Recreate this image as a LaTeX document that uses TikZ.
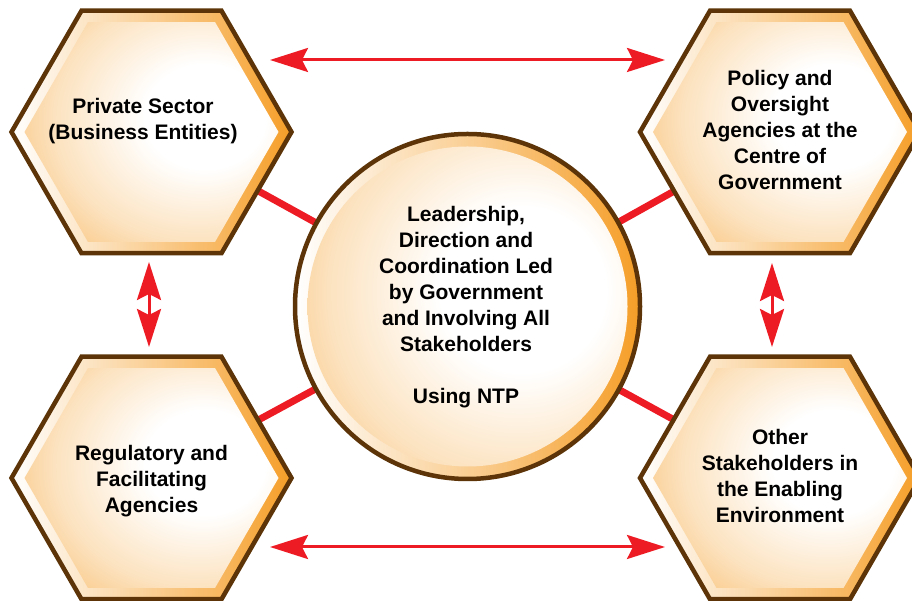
\documentclass[tikz,border=0pt]{standalone}
\usepackage{fontspec}
\setmainfont{Liberation Sans}
\usetikzlibrary{shapes.geometric,arrows.meta,backgrounds}
\definecolor{hexorange}{RGB}{245,158,40}
\definecolor{hexbrown}{RGB}{92,52,8}
\definecolor{linkred}{RGB}{237,28,36}
\pgfdeclareradialshading{hexglow}{\pgfpoint{12bp}{4bp}}{color(0bp)=(white); color(12bp)=(white); color(28bp)=(hexorange!30); color(42bp)=(hexorange!70); color(54bp)=(hexorange!95); color(100bp)=(hexorange)}
\pgfdeclareradialshading{circglow}{\pgfpoint{10bp}{3bp}}{color(0bp)=(white); color(13bp)=(white); color(29bp)=(hexorange!30); color(43bp)=(hexorange!70); color(55bp)=(hexorange!95); color(100bp)=(hexorange)}
\begin{document}
\begin{tikzpicture}[x=1pt,y=1pt,
  hexout/.style={regular polygon, regular polygon sides=6, minimum size=280pt, inner sep=0pt, outer sep=0pt, draw=hexbrown, line width=4.5pt, left color=white, right color=hexorange},
  hexin/.style={regular polygon, regular polygon sides=6, minimum size=254pt, inner sep=0pt, outer sep=0pt, shading=hexglow},
  circout/.style={circle, minimum size=345pt, inner sep=0pt, outer sep=0pt, draw=hexbrown, line width=4.5pt, left color=white, right color=hexorange},
  circin/.style={circle, minimum size=320pt, inner sep=0pt, outer sep=0pt, shading=circglow},
  lbl/.style={align=center, font=\fontsize{21}{26}\selectfont\bfseries, text=black, inner sep=0pt},
  link/.style={draw=linkred, line width=7pt},
  twoway/.style={draw=linkred, line width=3pt, {Stealth[length=38pt,width=24pt,inset=6pt]}-{Stealth[length=38pt,width=24pt,inset=6pt]}}
]
\useasboundingbox (0,0) rectangle (912,601);
\clip (0,0) rectangle (912,601);

% hexagons
\node[hexout] (tl) at (151.5,469) {};
\node[hexin] (tlin) at (151.5,469) {};
\node[hexout] (tr) at (780,469) {};
\node[hexin] (trin) at (780,469) {};
\node[hexout] (bl) at (151.5,123) {};
\node[hexin] (blin) at (151.5,123) {};
\node[hexout] (br) at (780,123) {};
\node[hexin] (brin) at (780,123) {};

% hub
\node[circout] (hub) at (467.5,294.5) {};
\node[circin] (hubin) at (467.5,294.5) {};

% labels
\node[lbl] (tltext) at (143,480) {Private Sector\\(Business Entities)};
\node[lbl] (trtext) at (780,471) {Policy and\\Oversight\\Agencies at the\\Centre of\\Government};
\node[lbl] (bltext) at (151.5,120) {Regulatory and\\Facilitating\\Agencies};
\node[lbl] (brtext) at (780,125) {Other\\Stakeholders in\\the Enabling\\Environment};
\node[lbl] (hubtext) at (466,293.5) {Leadership,\\Direction and\\Coordination Led\\by Government\\and Involving All\\Stakeholders\\[26pt]Using NTP};

% connectors to hub
\begin{scope}[on background layer]
\draw[link] (tl.center) -- (hub.center);
\draw[link] (tr.center) -- (hub.center);
\draw[link] (bl.center) -- (hub.center);
\draw[link] (br.center) -- (hub.center);
\end{scope}

% two-way arrows
\coordinate (topL) at (270,541);
\coordinate (topR) at (665,541);
\coordinate (botL) at (270,54);
\coordinate (botR) at (665,54);
\coordinate (leftT) at (149,339);
\coordinate (leftB) at (149,254);
\coordinate (rightT) at (772,338);
\coordinate (rightB) at (772,254);
\draw[twoway] (topL) -- (topR);
\draw[twoway] (botL) -- (botR);
\draw[twoway] (leftT) -- (leftB);
\draw[twoway] (rightT) -- (rightB);
\end{tikzpicture}
\end{document}
